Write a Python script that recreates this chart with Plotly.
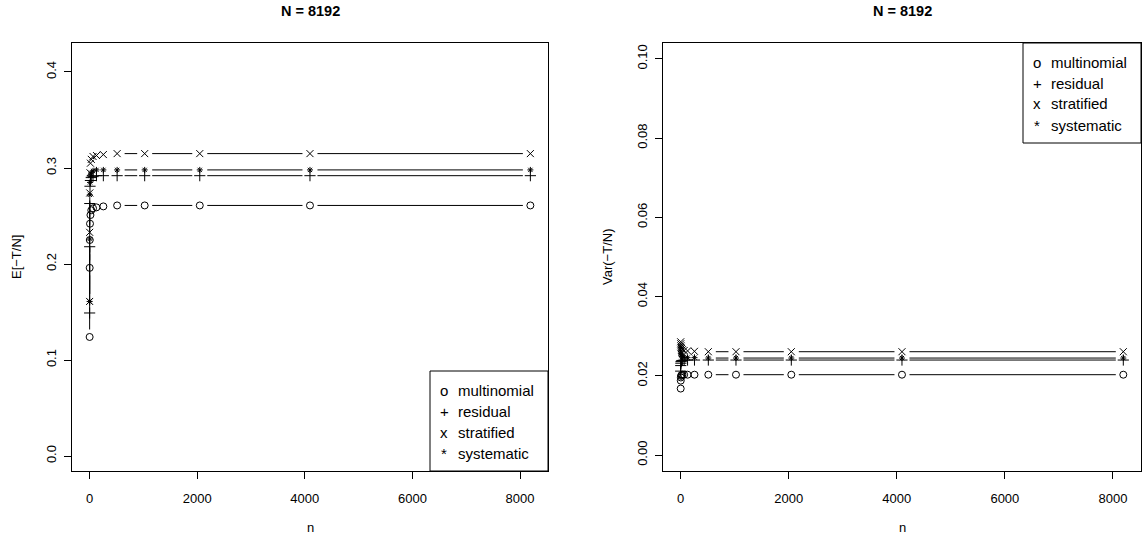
import math
import plotly.graph_objects as go

# ---------------- data ----------------
n = [1, 2, 4, 8, 16, 32, 64, 128, 256, 512, 1024, 2048, 4096, 8192]

mean_multinomial = [0.124, 0.196, 0.225, 0.242, 0.251, 0.256, 0.258, 0.259, 0.260, 0.261, 0.261, 0.261, 0.261, 0.261]
mean_residual    = [0.149, 0.218, 0.263, 0.281, 0.287, 0.290, 0.291, 0.292, 0.292, 0.292, 0.292, 0.292, 0.292, 0.292]
mean_stratified  = [0.161, 0.233, 0.274, 0.295, 0.305, 0.309, 0.312, 0.313, 0.314, 0.315, 0.315, 0.315, 0.315, 0.315]
mean_systematic  = [0.161, 0.226, 0.272, 0.285, 0.292, 0.295, 0.297, 0.298, 0.298, 0.298, 0.298, 0.298, 0.298, 0.298]

var_multinomial = [0.0168, 0.0188, 0.0196, 0.0200, 0.0202, 0.0203, 0.0203, 0.0203, 0.0203, 0.0203, 0.0203, 0.0203, 0.0203, 0.0203]
var_residual    = [0.0212, 0.0226, 0.0232, 0.0236, 0.0238, 0.0239, 0.0240, 0.0240, 0.0240, 0.0240, 0.0240, 0.0240, 0.0240, 0.0240]
var_stratified  = [0.0286, 0.0281, 0.0276, 0.0272, 0.0269, 0.0266, 0.0264, 0.0263, 0.0262, 0.0261, 0.0261, 0.0261, 0.0261, 0.0261]
var_systematic  = [0.0272, 0.0263, 0.0257, 0.0253, 0.0250, 0.0248, 0.0247, 0.0246, 0.0246, 0.0245, 0.0245, 0.0245, 0.0245, 0.0245]

series_names = ["multinomial", "residual", "stratified", "systematic"]
legend_chars = ["o", "+", "x", "*"]
left_ticks = [0.0, 0.1, 0.2, 0.3, 0.4]
left_ticktext = ["0.0", "0.1", "0.2", "0.3", "0.4"]
right_ticks = [0.00, 0.02, 0.04, 0.06, 0.08, 0.10]
right_ticktext = ["0.00", "0.02", "0.04", "0.06", "0.08", "0.10"]
x_ticks = [0, 2000, 4000, 6000, 8000]
x_ticktext = ["0", "2000", "4000", "6000", "8000"]
title_text = "N = 8192"

# ---------------- styling / geometry ----------------
W, H = 1146, 538
FONT = "Liberation Sans, Arial, Helvetica, sans-serif"
symbols = ["circle-open", "cross-thin-open", "x-thin-open", "asterisk-open"]
sym_size = [7, 8, 7, 5]
GAP = 7.5  # pixel gap around points (R type="b")

LBOX = (72, 548, 43, 471)     # x0, x1, ytop, ybottom (pixels)
RBOX = (663, 1141, 43, 471)

def fx(p):
    return p / W

def fy(p):
    return 1 - p / H

span = max(n) - min(n)
xr = [min(n) - 0.04 * span, max(n) + 0.04 * span]
left_yr = [-0.0156, 0.4302]
right_yr = [-0.004, 0.104]


def gapped_segments(xs, ys, box, yr):
    """Line pieces between points, shortened by GAP pixels at each end."""
    sx = (box[1] - box[0]) / (xr[1] - xr[0])
    sy = (box[3] - box[2]) / (yr[1] - yr[0])
    ox, oy = [], []
    for i in range(len(xs) - 1):
        dx = (xs[i + 1] - xs[i]) * sx
        dy = (ys[i + 1] - ys[i]) * sy
        L = math.hypot(dx, dy)
        if L <= 2 * GAP:
            continue
        ux, uy = dx / L, dy / L
        ox += [xs[i] + GAP * ux / sx, xs[i + 1] - GAP * ux / sx, None]
        oy += [ys[i] + GAP * uy / sy, ys[i + 1] - GAP * uy / sy, None]
    return ox, oy


fig = go.Figure()

panels = [
    ("x", "y", [mean_multinomial, mean_residual, mean_stratified, mean_systematic], LBOX, left_yr),
    ("x2", "y2", [var_multinomial, var_residual, var_stratified, var_systematic], RBOX, right_yr),
]

for xa, ya, sers, box, yr in panels:
    for k, s in enumerate(sers):
        gx, gy = gapped_segments(n, s, box, yr)
        fig.add_trace(go.Scatter(x=gx, y=gy, xaxis=xa, yaxis=ya, mode="lines",
                                 line=dict(color="black", width=1), showlegend=False,
                                 connectgaps=False, hoverinfo="skip"))
    for k, s in enumerate(sers):
        fig.add_trace(go.Scatter(x=n, y=s, xaxis=xa, yaxis=ya, mode="markers",
                                 name=series_names[k],
                                 marker=dict(symbol=symbols[k], size=sym_size[k], color="black",
                                             line=dict(color="black", width=1)),
                                 showlegend=False))

axis_common = dict(showline=True, mirror=True, linecolor="black", linewidth=1,
                   ticks="outside", ticklen=7, tickwidth=1, tickcolor="black",
                   showgrid=False, zeroline=False,
                   tickfont=dict(family=FONT, size=13, color="black"))

fig.update_layout(
    width=W, height=H, autosize=False,
    margin=dict(l=0, r=0, t=0, b=0),
    paper_bgcolor="white", plot_bgcolor="white",
    showlegend=False,
    xaxis=dict(domain=[fx(LBOX[0]), fx(LBOX[1])], range=xr, anchor="y",
               tickvals=x_ticks, ticktext=x_ticktext, ticklabelstandoff=8, **axis_common),
    yaxis=dict(domain=[fy(LBOX[3]), fy(LBOX[2])], range=left_yr, anchor="x",
               tickvals=left_ticks, ticktext=left_ticktext, tickangle=-90,
               ticklabelstandoff=3, **axis_common),
    xaxis2=dict(domain=[fx(RBOX[0]), fx(RBOX[1])], range=xr, anchor="y2",
                tickvals=x_ticks, ticktext=x_ticktext, ticklabelstandoff=8, **axis_common),
    yaxis2=dict(domain=[fy(RBOX[3]), fy(RBOX[2])], range=right_yr, anchor="x2",
                tickvals=right_ticks, ticktext=right_ticktext, tickangle=-90,
                ticklabelstandoff=3, **axis_common),
)

ann = []
for box, ylab in [(LBOX, "E[\u2212T/N]"), (RBOX, "Var(\u2212T/N)")]:
    cx = (box[0] + box[1]) / 2
    cy = (box[2] + box[3]) / 2
    ann.append(dict(x=fx(cx), y=fy(11), xref="paper", yref="paper", text="<b>" + title_text + "</b>",
                    showarrow=False, font=dict(family=FONT, size=14.5, color="black"),
                    xanchor="center", yanchor="middle"))
    ann.append(dict(x=fx(cx), y=fy(527), xref="paper", yref="paper", text="n",
                    showarrow=False, font=dict(family=FONT, size=13, color="black"),
                    xanchor="center", yanchor="middle"))
    ann.append(dict(x=fx(box[0] - 55), y=fy(cy), xref="paper", yref="paper", text=ylab,
                    textangle=-90, showarrow=False, font=dict(family=FONT, size=13, color="black"),
                    xanchor="center", yanchor="middle"))

# legends (boxed), left panel bottom-right, right panel top-right
shapes = []
LEG_W, LEG_H, ROW = 118, 100, 21
for box, where in [(LBOX, "bottom"), (RBOX, "top")]:
    x1 = box[1]
    x0 = x1 - LEG_W
    if where == "bottom":
        y1 = box[3]
        y0 = y1 - LEG_H
    else:
        y0 = box[2]
        y1 = y0 + LEG_H
    shapes.append(dict(type="rect", xref="paper", yref="paper",
                       x0=fx(x0), x1=fx(x1), y0=fy(y1), y1=fy(y0),
                       line=dict(color="black", width=1), fillcolor="white", layer="above"))
    for k in range(4):
        ry = y0 + 19 + ROW * k
        ann.append(dict(x=fx(x0 + 14), y=fy(ry), xref="paper", yref="paper", text=legend_chars[k],
                        showarrow=False, font=dict(family=FONT, size=15, color="black"),
                        xanchor="center", yanchor="middle"))
        ann.append(dict(x=fx(x0 + 26), y=fy(ry), xref="paper", yref="paper", text=series_names[k],
                        showarrow=False, font=dict(family=FONT, size=15, color="black"),
                        xanchor="left", yanchor="middle"))

fig.update_layout(annotations=ann, shapes=shapes)

fig.write_html("out.html", config={"displayModeBar": False},
               post_script="document.body.style.margin='0';document.body.style.overflow='hidden';")
